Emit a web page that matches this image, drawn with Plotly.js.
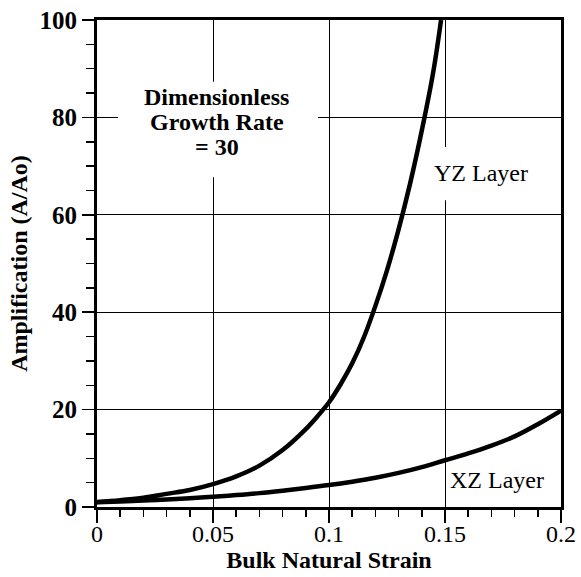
<!DOCTYPE html>
<html>
<head>
<meta charset="utf-8">
<script src="https://cdn.plot.ly/plotly-3.0.1.min.js"></script>
<style>html,body{margin:0;padding:0;background:#fff;}#chart{width:581px;height:577px;}</style>
</head>
<body>
<div id="chart"></div>
<script>
// Bulk natural strain (x) values and amplification (y)
const strainYZ = [0, 0.01, 0.02, 0.03, 0.04, 0.05, 0.06, 0.07, 0.08, 0.09, 0.095, 0.10, 0.105, 0.11, 0.115, 0.12, 0.125, 0.13, 0.135, 0.14, 0.145, 0.1483];
const ampYZ    = [1.0, 1.4, 1.9, 2.7, 3.5, 4.7, 6.3, 8.5, 11.7, 16.0, 18.6, 21.5, 25.2, 29.5, 34.8, 41.3, 48.6, 57.0, 66.5, 77.3, 89.5, 100];
const strainXZ = [0, 0.01, 0.02, 0.03, 0.04, 0.05, 0.06, 0.07, 0.08, 0.09, 0.10, 0.11, 0.12, 0.13, 0.14, 0.15, 0.16, 0.17, 0.18, 0.19, 0.20];
const ampXZ    = [1.0, 1.15, 1.35, 1.55, 1.8, 2.1, 2.45, 2.85, 3.35, 3.9, 4.5, 5.2, 6.0, 7.0, 8.2, 9.6, 11.0, 12.6, 14.5, 17.0, 19.8];
const xTickVals = [0, 0.05, 0.1, 0.15, 0.2];
const xTickText = ['0', '0.05', '0.1', '0.15', '0.2'];
const yTickVals = [0, 20, 40, 60, 80, 100];
const yTickText = ['0', '20', '40', '60', '80', '100'];

const serif = 'Liberation Serif, Times New Roman, serif';
const lineStyle = {color: 'black', width: 4.5, shape: 'spline', smoothing: 1};

const traces = [
  {x: strainYZ, y: ampYZ, type: 'scatter', mode: 'lines', line: lineStyle, name: 'YZ Layer', hoverinfo: 'skip'},
  {x: strainXZ, y: ampXZ, type: 'scatter', mode: 'lines', line: lineStyle, name: 'XZ Layer', hoverinfo: 'skip'}
];

const layout = {
  width: 581, height: 577,
  margin: {l: 97, r: 20, t: 20, b: 70},
  paper_bgcolor: 'white', plot_bgcolor: 'white',
  showlegend: false,
  xaxis: {
    range: [0, 0.2], tickvals: xTickVals, ticktext: xTickText,
    ticks: 'outside', ticklen: 13, tickwidth: 1.5, tickcolor: 'black',
    ticklabelstandoff: -10,
    minor: {dtick: 0.01, ticks: 'outside', ticklen: 7, tickwidth: 1.5, tickcolor: 'black', showgrid: false},
    showgrid: true, gridcolor: 'black', gridwidth: 1, zeroline: false,
    showline: true, linecolor: 'black', linewidth: 3, mirror: true,
    tickfont: {family: serif, size: 24, color: 'black'},
    title: {text: 'Bulk Natural Strain', font: {family: serif, size: 24, color: 'black', weight: 'bold'}, standoff: 2}
  },
  yaxis: {
    range: [0, 100], tickvals: yTickVals, ticktext: yTickText,
    ticks: 'outside', ticklen: 12, tickwidth: 1.5, tickcolor: 'black',
    minor: {dtick: 5, ticks: 'outside', ticklen: 8, tickwidth: 1.5, tickcolor: 'black', showgrid: false},
    showgrid: true, gridcolor: 'black', gridwidth: 1, zeroline: false,
    showline: true, linecolor: 'black', linewidth: 3, mirror: true,
    tickfont: {family: serif, size: 25, color: 'black', weight: 'bold'},
    title: {text: 'Amplification (A/Ao)', font: {family: serif, size: 24, color: 'black', weight: 'bold'}, standoff: 6}
  },
  shapes: [
    {type: 'rect', layer: 'between', xref: 'x', yref: 'y', x0: 0.009, x1: 0.0953, y0: 67.7, y1: 87.3, fillcolor: 'white', line: {width: 0}},
    {type: 'rect', layer: 'between', xref: 'x', yref: 'y', x0: 0.1435, x1: 0.1875, y0: 63.0, y1: 73.9, fillcolor: 'white', line: {width: 0}}
  ],
  annotations: [
    {text: 'Dimensionless', x: 0.0517, y: 84.2, xref: 'x', yref: 'y', showarrow: false, font: {family: serif, size: 24, color: 'black', weight: 'bold'}},
    {text: 'Growth Rate', x: 0.0517, y: 79.0, xref: 'x', yref: 'y', showarrow: false, font: {family: serif, size: 24, color: 'black', weight: 'bold'}},
    {text: '= 30', x: 0.0517, y: 73.9, xref: 'x', yref: 'y', showarrow: false, font: {family: serif, size: 24, color: 'black', weight: 'bold'}},
    {text: 'YZ Layer', x: 0.1655, y: 68.6, xref: 'x', yref: 'y', showarrow: false, font: {family: serif, size: 24, color: 'black'}},
    {text: 'XZ Layer', x: 0.1726, y: 5.5, xref: 'x', yref: 'y', showarrow: false, font: {family: serif, size: 24, color: 'black'}}
  ]
};

Plotly.newPlot('chart', traces, layout, {staticPlot: true, displayModeBar: false});
</script>
</body>
</html>
